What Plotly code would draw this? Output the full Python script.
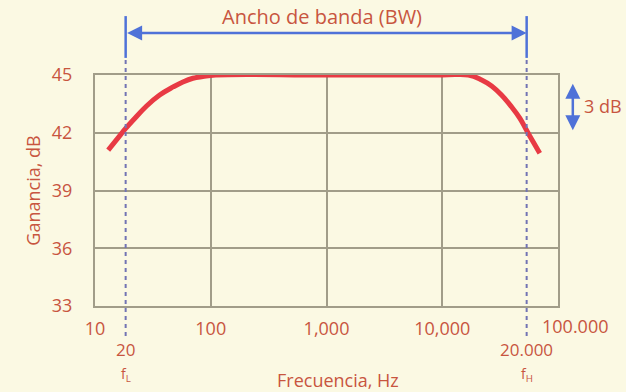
import math
import plotly.graph_objects as go

# ---- data ----
freq_hz = [13.0, 16.4, 18.1, 21.4, 27.9, 36.2, 47.3, 57.5, 70.1, 85.4, 110, 1000, 10000, 16830,
           21900, 26700, 32500, 39650, 46900, 53350, 60950, 69600]
gain_db = [41.10, 41.85, 42.17, 42.66, 43.39, 43.96, 44.38, 44.64, 44.83, 44.92, 45.0, 45.0, 45.0, 45.0,
           44.74, 44.43, 43.96, 43.35, 42.75, 42.14, 41.53, 40.93]

x_tick_vals = [10, 100, 1000, 10000, 100000]
x_tick_text = ["10", "100", "1,000", "10,000", ""]
y_tick_vals = [33, 36, 39, 42, 45]

fL_pos = 18.4      # drawn position of the lower cutoff marker
fH_pos = 53600     # drawn position of the upper cutoff marker
fL_label = "20"
fH_label = "20.000"

TXT = "#C8553F"
RED = "#E83A44"
GRID = "#A19D89"
BLUE = "#4F72D8"
DASH = "#7274B4"
BG = "#FBF9E3"
FONT = "Open Sans"

fig = go.Figure()
fig.add_trace(go.Scatter(
    x=freq_hz, y=gain_db, mode="lines",
    line=dict(color=RED, width=5, shape="spline", smoothing=1.2),
    hoverinfo="skip", showlegend=False))

shapes = []
for f in (fL_pos, fH_pos):
    shapes.append(dict(type="line", xref="x", yref="y domain", x0=f, x1=f,
                       y0=1.074, y1=1.255, line=dict(color=BLUE, width=2.5)))
    shapes.append(dict(type="line", xref="x", yref="y domain", x0=f, x1=f,
                       y0=-0.13, y1=1.074, line=dict(color=DASH, width=2, dash="4px,4px")))
fig.update_layout(shapes=shapes)

ann = []
# bandwidth double arrow
ann.append(dict(x=math.log10(fH_pos), y=1.182, xref="x", yref="y domain",
                ax=math.log10(fL_pos), ay=1.182, axref="x", ayref="y domain",
                text="", showarrow=True, arrowside="end+start", arrowhead=2,
                arrowsize=1.2, arrowwidth=2.5, arrowcolor=BLUE, standoff=0, startstandoff=0))
ann.append(dict(x=0.49, y=1.255, xref="x domain", yref="y domain", yanchor="middle",
                text="Ancho de banda (BW)", showarrow=False,
                font=dict(family=FONT, size=20, color=TXT)))
# 3 dB arrow
ann.append(dict(x=1.032, y=44.55, xref="x domain", yref="y",
                ax=1.032, ay=42.05, axref="x domain", ayref="y",
                text="", showarrow=True, arrowside="end+start", arrowhead=2,
                arrowsize=1.2, arrowwidth=2.5, arrowcolor=BLUE, standoff=0, startstandoff=0))
ann.append(dict(x=1.052, y=43.4, xref="x domain", yref="y", xanchor="left", yanchor="middle",
                text="3 dB", showarrow=False,
                font=dict(family=FONT, size=18, color=TXT)))
# 100.000 tick label
ann.append(dict(x=5, y=-0.085, xref="x", yref="y domain", xanchor="center", yanchor="middle",
                xshift=17, text="100.000", showarrow=False,
                font=dict(family=FONT, size=18, color=TXT)))
# cutoff labels
for f, lab, sub in ((fL_pos, fL_label, "L"), (fH_pos, fH_label, "H")):
    ann.append(dict(x=math.log10(f), y=-0.19, xref="x", yref="y domain", yanchor="middle",
                    text=lab, showarrow=False,
                    font=dict(family=FONT, size=17, color=TXT)))
    ann.append(dict(x=math.log10(f), y=-0.297, xref="x", yref="y domain", yanchor="middle",
                    text="f<sub>%s</sub>" % sub, showarrow=False,
                    font=dict(family=FONT, size=14, color=TXT)))
# axis titles
ann.append(dict(x=0.525, y=-0.32, xref="x domain", yref="y domain", yanchor="middle",
                text="Frecuencia, Hz", showarrow=False,
                font=dict(family=FONT, size=18, color=TXT)))
ann.append(dict(x=-0.166, y=0.5, xref="x domain", yref="y domain", yanchor="middle",
                text="Ganancia, dB", showarrow=False, textangle=-90,
                font=dict(family=FONT, size=18, color=TXT)))
fig.update_layout(annotations=ann)

fig.update_xaxes(type="log", range=[1, 5], tickvals=x_tick_vals, ticktext=x_tick_text,
                 showgrid=True, gridcolor=GRID, gridwidth=2,
                 showline=True, linecolor=GRID, linewidth=2, mirror=True,
                 ticks="", ticklabelstandoff=5, zeroline=False,
                 tickfont=dict(family=FONT, size=18, color=TXT))
fig.update_yaxes(range=[33, 45], tickvals=y_tick_vals,
                 showgrid=True, gridcolor=GRID, gridwidth=2,
                 showline=True, linecolor=GRID, linewidth=2, mirror=True,
                 ticks="", ticklabelstandoff=17, zeroline=False,
                 tickfont=dict(family=FONT, size=18, color=TXT))

fig.update_layout(width=626, height=392,
                  margin=dict(l=95, r=68, t=75, b=86, autoexpand=False),
                  paper_bgcolor=BG, plot_bgcolor=BG, showlegend=False)

fig.write_html("out.html", config={"displayModeBar": False},
               post_script="document.body.style.margin='0px';document.body.style.background='%s';" % BG)
